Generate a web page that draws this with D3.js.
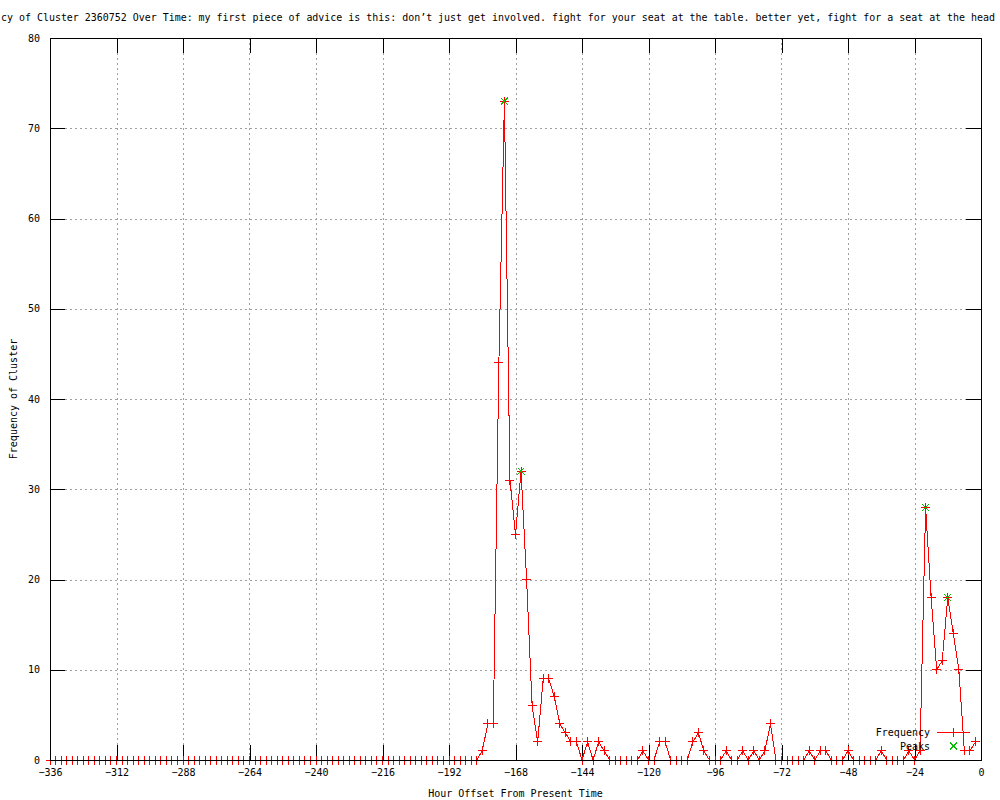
<!DOCTYPE html>
<html>
<head>
<meta charset="utf-8">
<script src="https://cdn.jsdelivr.net/npm/d3@7"></script>
<style>
  html, body { margin: 0; padding: 0; background: #fff; }
  svg { display: block; }
  text { font-family: "DejaVu Sans Mono", "Liberation Mono", monospace; font-size: 10px; fill: #000; }
</style>
</head>
<body>
<svg id="chart" width="1000" height="800"></svg>
<script>
// ---- data ----
// the reference shows the title clipped at both canvas edges; this is the visible part
const titleText = "cy of Cluster 2360752 Over Time: my first piece of advice is this: don\u2019t just get involved. fight for your seat at the table. better yet, fight for a seat at the head";
const xLabel = "Hour Offset From Present Time";
const yLabel = "Frequency of Cluster";
const xTicks = [-336, -312, -288, -264, -240, -216, -192, -168, -144, -120, -96, -72, -48, -24, 0];
const yTicks = [0, 10, 20, 30, 40, 50, 60, 70, 80];

// hours -336 .. -2 (every 2 hours)
const hours = d3.range(-336, 0, 2);
const frequency = [
  0,0,0,0,0,0,0,0,0,0, 0,0,0,0,0,0,0,0,0,0,   // -336 .. -298
  0,0,0,0,0,0,0,0,0,0, 0,0,0,0,0,0,0,0,0,0,   // -296 .. -258
  0,0,0,0,0,0,0,0,0,0, 0,0,0,0,0,0,0,0,0,0,   // -256 .. -218
  0,0,0,0,0,0,0,0,0,0, 0,0,0,0,0,0,0,0,       // -216 .. -182
  1,4,4,44,73,31,25,32,20,6,                  // -180 .. -162
  2,9,9,7,4,3,2,2,0,2,                        // -160 .. -142
  0,2,1,0,0,0,0,0,0,1,                        // -140 .. -122
  0,0,2,2,0,0,0,0,2,3,                        // -120 .. -102
  1,0,0,0,1,0,0,1,0,1,                        // -100 .. -82
  0,1,4,0,0,0,0,0,0,1,                        // -80 .. -62
  0,1,1,0,0,0,1,0,0,0,                        // -60 .. -42
  0,0,1,0,0,0,0,1,0,1,                        // -40 .. -22
  28,18,10,11,18,14,10,1,1,2                  // -20 .. -2
];
const peakHours = [-172, -166, -20, -12];
const peakValues = [73, 32, 28, 18];
const seriesNames = ["Frequency", "Peaks"];

// ---- drawing ----
const svg = d3.select("#chart");
const L = 50, R = 981, T = 38, B = 760;
const x = d3.scaleLinear().domain([-336, 0]).range([L, R]);
const y = d3.scaleLinear().domain([0, 80]).range([B, T]);
const data = hours.map((h, i) => ({h, v: frequency[i]}));
const peaks = peakHours.map((h, i) => ({h, v: peakValues[i]}));

// grid
const grid = svg.append("g").attr("stroke", "#a0a0a0").attr("stroke-width", 1)
  .attr("stroke-dasharray", "2,3").attr("shape-rendering", "crispEdges");
grid.selectAll("line.gx").data(xTicks.filter(d => d > -336 && d < 0)).join("line")
  .attr("x1", d => Math.round(x(d)) + 0.5).attr("x2", d => Math.round(x(d)) + 0.5)
  .attr("y1", T).attr("y2", B);
grid.selectAll("line.gy").data(yTicks.filter(d => d > 0 && d < 80)).join("line")
  .attr("y1", d => Math.round(y(d)) + 0.5).attr("y2", d => Math.round(y(d)) + 0.5)
  .attr("x1", L).attr("x2", R);

// axes (ticks inward, mirrored)
const tickLen = 15;
function styleAxis(g) {
  g.select(".domain").remove();
  g.selectAll("line").attr("stroke", "#000").attr("shape-rendering", "crispEdges");
  g.selectAll("text").attr("fill", "#000")
    .style("font-family", "'DejaVu Sans Mono', monospace").style("font-size", "10px");
}
svg.append("g").attr("transform", `translate(0,${B})`)
  .call(d3.axisBottom(x).tickValues(xTicks).tickSize(-tickLen).tickPadding(9).tickFormat(d => d3.format("d")(d).replace("-", "\u2212")))
  .call(styleAxis);
svg.append("g").attr("transform", `translate(0,${T})`)
  .call(d3.axisTop(x).tickValues(xTicks).tickSize(-tickLen).tickFormat(""))
  .call(styleAxis);
svg.append("g").attr("transform", `translate(${L},0)`)
  .call(d3.axisLeft(y).tickValues(yTicks).tickSize(-tickLen).tickPadding(10))
  .call(styleAxis);
svg.append("g").attr("transform", `translate(${R},0)`)
  .call(d3.axisRight(y).tickValues(yTicks).tickSize(-tickLen).tickFormat(""))
  .call(styleAxis);

// data line
const line = d3.line().x(d => x(d.h)).y(d => y(d.v));
svg.append("path").datum(data).attr("d", line)
  .attr("fill", "none").attr("stroke", "#ff0000").attr("stroke-width", 1)
  .attr("shape-rendering", "crispEdges");

// + points
const plusPath = (cx, cy, s) => `M${cx - s},${cy}H${cx + s}M${cx},${cy - s}V${cy + s}`;
svg.append("g").selectAll("path").data(data).join("path")
  .attr("d", d => plusPath(x(d.h), y(d.v), 4.5))
  .attr("fill", "none").attr("stroke", "#ff0000").attr("stroke-width", 1)
  .attr("shape-rendering", "crispEdges");

// border (on top)
svg.append("rect").attr("x", L + 0.5).attr("y", T + 0.5)
  .attr("width", R - L).attr("height", B - T)
  .attr("fill", "none").attr("stroke", "#000").attr("stroke-width", 1)
  .attr("shape-rendering", "crispEdges");

// peaks x points
const xPath = (cx, cy, s) => `M${cx - s},${cy - s}L${cx + s},${cy + s}M${cx - s},${cy + s}L${cx + s},${cy - s}`;
svg.append("g").selectAll("path").data(peaks).join("path")
  .attr("d", d => xPath(x(d.h), y(d.v), 3.5))
  .attr("fill", "none").attr("stroke", "#00c000").attr("stroke-width", 1)
  .attr("shape-rendering", "crispEdges");

// legend
svg.append("text").attr("x", 930).attr("y", 736).attr("text-anchor", "end").text(seriesNames[0]);
svg.append("line").attr("x1", 937).attr("x2", 970).attr("y1", 732.5).attr("y2", 732.5)
  .attr("stroke", "#ff0000").attr("shape-rendering", "crispEdges");
svg.append("path").attr("d", plusPath(953.5, 732.5, 4.5)).attr("stroke", "#ff0000")
  .attr("fill", "none").attr("shape-rendering", "crispEdges");
svg.append("text").attr("x", 930).attr("y", 750).attr("text-anchor", "end").text(seriesNames[1]);
svg.append("path").attr("d", xPath(953.5, 746, 3.5)).attr("stroke", "#00c000")
  .attr("fill", "none").attr("shape-rendering", "crispEdges");

// title (visible portion, fitted inside the canvas)
svg.append("text").attr("x", 1).attr("y", 21)
  .attr("textLength", 994).attr("lengthAdjust", "spacingAndGlyphs")
  .text(titleText);

// axis labels
svg.append("text").attr("x", (L + R) / 2).attr("y", 797).attr("text-anchor", "middle").text(xLabel);
svg.append("text").attr("transform", `translate(17,399) rotate(-90)`).attr("text-anchor", "middle").text(yLabel);
</script>
</body>
</html>
